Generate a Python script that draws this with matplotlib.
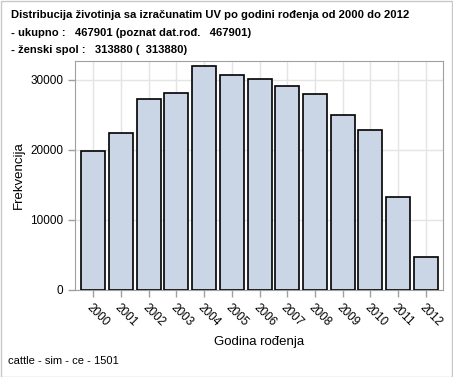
import matplotlib.pyplot as plt
from matplotlib.patches import Rectangle

plt.rcParams['font.family'] = ['Liberation Sans', 'DejaVu Sans']

years = ['2000', '2001', '2002', '2003', '2004', '2005', '2006',
         '2007', '2008', '2009', '2010', '2011', '2012']
counts = [19860, 22430, 27290, 28140, 32000, 30710, 30140,
          29140, 28000, 25000, 22860, 13290, 4710]
yticks = [0, 10000, 20000, 30000]

title_lines = ['Distribucija životinja sa izračunatim UV po godini rođenja od 2000 do 2012',
               '- ukupno :   467901 (poznat dat.rođ.   467901)',
               '- ženski spol :   313880 (  313880)']

W, H = 453, 377
fig = plt.figure(figsize=(W / 100, H / 100), dpi=100)
ax = fig.add_axes([75 / W, 1 - 290 / H, (443 - 75) / W, (290 - 61) / H])

x = list(range(len(years)))
ax.bar(x, counts, width=0.87, color='#cad5e5', edgecolor='black', linewidth=1.2, zorder=3)

ax.set_xlim(-0.66, len(years) - 1 + 0.62)
ax.set_ylim(0, 32714)
ax.set_xticks(x)
ax.set_xticklabels(years, rotation=-45, ha='left', va='top', rotation_mode='anchor', fontsize=8.5)
ax.set_yticks(yticks)
ax.set_yticklabels([str(v) for v in yticks], fontsize=8.5)
ax.tick_params(colors='#a0a0a0', labelcolor='black', length=5, width=1)
ax.grid(True, color='#e4e4e4', linewidth=1, zorder=0)
for s in ax.spines.values():
    s.set_color('#a0a0a0')

ax.set_xlabel('Godina rođenja', fontsize=9.5, labelpad=5)
ax.set_ylabel('Frekvencija', fontsize=9.5, labelpad=4)

for i, t in enumerate(title_lines):
    fig.text(11 / W, 1 - (15 + 17.5 * i) / H, t, fontsize=8.1, fontweight='bold', va='center', ha='left')
fig.text(8 / W, 1 - 361 / H, 'cattle - sim - ce - 1501', fontsize=8, va='center', ha='left')

fig.patches.append(Rectangle((0.5 / W, 0.5 / H), 1 - 1.5 / W, 1 - 1.5 / H, transform=fig.transFigure,
                             fill=False, edgecolor='#c8c8c8', linewidth=1))

fig.savefig('out.png', dpi=100)
